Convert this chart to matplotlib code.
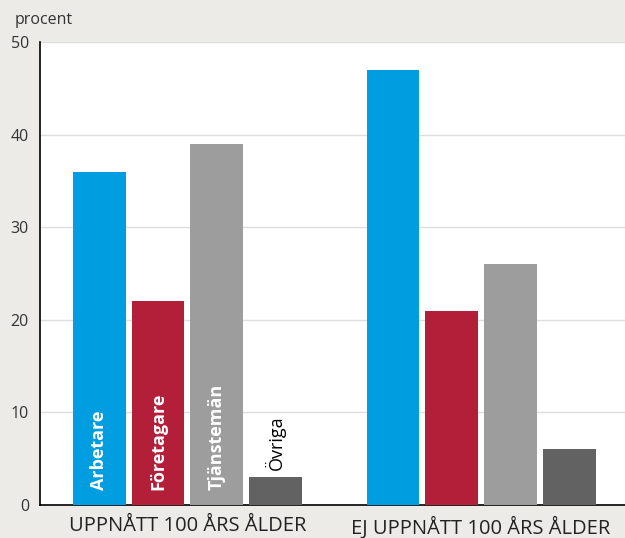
import numpy as np
import matplotlib.pyplot as plt

plt.rcParams['font.family'] = ['Open Sans', 'DejaVu Sans']

# data
groups = ['UPPNÅTT 100 ÅRS ÅLDER', 'EJ UPPNÅTT 100 ÅRS ÅLDER']
categories = ['Arbetare', 'Företagare', 'Tjänstemän', 'Övriga']
uppnatt = [36, 22, 39, 3]
ej_uppnatt = [47, 21, 26, 6]
colors = ['#009ee0', '#b31f38', '#9d9d9d', '#626262']
yticks = [0, 10, 20, 30, 40, 50]

bg = '#ecebe8'
fig = plt.figure(figsize=(6.25, 5.38), dpi=100, facecolor=bg)
ax = fig.add_axes([0.064, 0.0613, 0.936, 0.8606])
ax.set_facecolor('white')

x1 = np.arange(len(categories))
x2 = x1 + 5
ax.bar(x1, uppnatt, width=0.9, color=colors, zorder=3)
ax.bar(x2, ej_uppnatt, width=0.9, color=colors, zorder=3)

# kategorinamn i första gruppen
for i, name in enumerate(categories):
    if uppnatt[i] > 10:
        ax.text(x1[i], 1.6, name, rotation=90, ha='center', va='bottom',
                color='white', fontweight='bold', fontsize=13, zorder=4)
    else:
        ax.text(x1[i], uppnatt[i] + 0.8, name, rotation=90, ha='center',
                va='bottom', color='black', fontsize=13, zorder=4)

ax.set_xlim(-1.01, 8.95)
ax.set_ylim(0, 50)
ax.set_yticks(yticks)
ax.yaxis.grid(True, color='#dedede', linewidth=1, zorder=0)
ax.tick_params(axis='y', length=0, labelsize=11.5, labelcolor='#333333', pad=8)
ax.set_xticks([1.5, 6.5])
ax.set_xticklabels(groups)
ax.tick_params(axis='x', length=0, labelsize=14.5, labelcolor='#222222', pad=8)

for s in ['top', 'right']:
    ax.spines[s].set_visible(False)
ax.spines['left'].set_color('black')
ax.spines['bottom'].set_color('black')
ax.spines['left'].set_linewidth(1.2)
ax.spines['bottom'].set_linewidth(1.2)

fig.text(15 / 625, 1 - 20 / 538, 'procent', ha='left', va='center',
         fontsize=11.5, color='#333333')

fig.savefig('out.png', dpi=100, facecolor=bg)
